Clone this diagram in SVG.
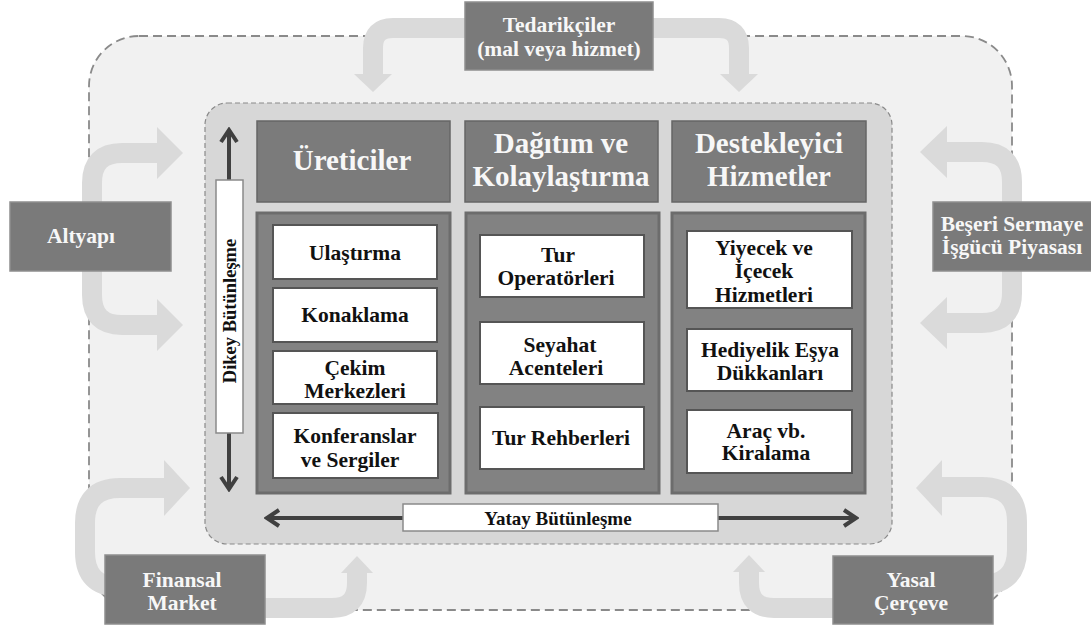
<svg xmlns="http://www.w3.org/2000/svg" width="1091" height="632" viewBox="0 0 1091 632">
<style>
.t{font-family:"Liberation Serif","DejaVu Serif",serif;font-weight:bold;text-anchor:middle}
.w{fill:#f7f7f7}
.k{fill:#111}
.band{fill:none;stroke:#dadada;stroke-width:20}
.head{fill:#dadada}
.dark{fill:#7a7a7a;stroke:#8e8e8e;stroke-width:1.5}
.hdr{fill:#7b7b7b;stroke:#666;stroke-width:1.5}
.col{fill:#828282;stroke:#6c6c6c;stroke-width:3}
.wb{fill:#fff;stroke:#555;stroke-width:2}
.bar{fill:#fff;stroke:#8a8a8a;stroke-width:1.5}
.dline{fill:none;stroke:#404040;stroke-width:4}
</style>
<defs>
<marker id="chev" viewBox="0 0 20 20" refX="16" refY="10" markerWidth="20" markerHeight="20" markerUnits="userSpaceOnUse" orient="auto">
<path d="M5,2 L17,10 L5,18" fill="none" stroke="#404040" stroke-width="4"/>
</marker>
</defs>
<rect width="1091" height="632" fill="#fff"/>
<rect id="outer" x="89" y="36" width="923" height="574" rx="50" fill="#f1f1f1" stroke="#8a8a8a" stroke-width="1.8" stroke-dasharray="9 5"/>
<g id="inner">
<rect x="205" y="103" width="687" height="441" rx="22" fill="#d7d7d7" stroke="#8a8a8a" stroke-width="1.2" stroke-dasharray="5 3"/>
</g>
<g id="connectors">
<path class="band" d="M480 28 H393 Q373 28 373 48 V75"/>
<polygon class="head" points="354,74 392,74 373,92"/>
<path class="band" d="M640 28 H719 Q739 28 739 48 V75"/>
<polygon class="head" points="720,74 758,74 739,92"/>
<path class="band" d="M92 210 V183 Q92 153 122 153 H158"/>
<polygon class="head" points="157,127 157,179 183,153"/>
<path class="band" d="M92 265 V295 Q92 325 122 325 H158"/>
<polygon class="head" points="157,299 157,351 183,325"/>
<path class="band" d="M1012 210 V182 Q1012 152 982 152 H946"/>
<polygon class="head" points="947,126 947,178 920,152"/>
<path class="band" d="M1012 265 V293 Q1012 323 982 323 H946"/>
<polygon class="head" points="947,297 947,349 920,323"/>
<path class="band" d="M120 587 Q85 587 85 552 V523 Q85 488 120 488 H165"/>
<polygon class="head" points="164,460 164,516 190,488"/>
<path class="band" d="M255 608 H332 Q357 608 357 583 V572"/>
<polygon class="head" points="341,573 373,573 357,556"/>
<path class="band" d="M845 608 H774 Q749 608 749 583 V571"/>
<polygon class="head" points="733,572 765,572 749,555"/>
<path class="band" d="M980 585 Q1017 585 1017 550 V522 Q1017 487 982 487 H941"/>
<polygon class="head" points="942,460 942,516 916,488"/>
<line class="dline" x1="229" y1="180" x2="229" y2="131" marker-end="url(#chev)"/>
<line class="dline" x1="229" y1="433" x2="229" y2="488" marker-end="url(#chev)"/>
<line class="dline" x1="403" y1="518" x2="268" y2="518" marker-end="url(#chev)"/>
<line class="dline" x1="718" y1="518" x2="855" y2="518" marker-end="url(#chev)"/>
</g>
<g id="tedarikciler">
<rect class="dark" x="465" y="2" width="188" height="68"/>
<text class="t w" font-size="21.5" x="559" y="32">Tedarikçiler</text>
<text class="t w" font-size="21.5" x="559" y="56">(mal veya hizmet)</text>
</g>
<g id="altyapi">
<rect class="dark" x="10" y="202" width="161" height="69"/>
<text class="t w" font-size="21.5" x="81" y="243">Altyapı</text>
</g>
<g id="beseri">
<rect class="dark" x="933" y="202" width="160" height="69"/>
<text class="t w" font-size="21.5" x="1012" y="231">Beşeri Sermaye</text>
<text class="t w" font-size="21.5" x="1012" y="254">İşgücü Piyasası</text>
</g>
<g id="finansal">
<rect class="dark" x="105" y="555" width="160" height="69"/>
<text class="t w" font-size="21.5" x="182" y="587">Finansal</text>
<text class="t w" font-size="21.5" x="182" y="610">Market</text>
</g>
<g id="yasal">
<rect class="dark" x="833" y="556" width="160" height="68"/>
<text class="t w" font-size="21.5" x="911" y="587">Yasal</text>
<text class="t w" font-size="21.5" x="911" y="610">Çerçeve</text>
</g>
<g id="ureticiler">
<rect class="hdr" x="257" y="121" width="193" height="81"/>
<text class="t w" font-size="29" x="352" y="170">Üreticiler</text>
</g>
<g id="dagitim">
<rect class="hdr" x="465" y="121" width="193" height="81"/>
<text class="t w" font-size="29" x="561" y="153">Dağıtım ve</text>
<text class="t w" font-size="29" x="561" y="186">Kolaylaştırma</text>
</g>
<g id="destekleyici">
<rect class="hdr" x="672" y="121" width="194" height="81"/>
<text class="t w" font-size="29" x="769" y="153">Destekleyici</text>
<text class="t w" font-size="29" x="769" y="186">Hizmetler</text>
</g>
<g id="col1">
<rect class="col" x="257" y="213" width="193" height="280"/>
</g>
<g id="col2">
<rect class="col" x="466" y="213" width="193" height="280"/>
</g>
<g id="col3">
<rect class="col" x="672" y="213" width="193" height="280"/>
</g>
<g id="ulastirma">
<rect class="wb" x="273" y="225" width="164" height="54"/>
<text class="t k" font-size="21.5" x="355" y="260">Ulaştırma</text>
</g>
<g id="konaklama">
<rect class="wb" x="273" y="288" width="164" height="54"/>
<text class="t k" font-size="21.5" x="355" y="322">Konaklama</text>
</g>
<g id="cekim">
<rect class="wb" x="273" y="351" width="164" height="53"/>
<text class="t k" font-size="21.5" x="355" y="375">Çekim</text>
<text class="t k" font-size="21.5" x="355" y="398">Merkezleri</text>
</g>
<g id="konferanslar">
<rect class="wb" x="273" y="413" width="165" height="65"/>
<text class="t k" font-size="21.5" x="355" y="443">Konferanslar</text>
<text class="t k" font-size="21.5" x="350" y="467">ve Sergiler</text>
</g>
<g id="turop">
<rect class="wb" x="480" y="235" width="164" height="62"/>
<text class="t k" font-size="21.5" x="558" y="262">Tur</text>
<text class="t k" font-size="21.5" x="556" y="285">Operatörleri</text>
</g>
<g id="seyahat">
<rect class="wb" x="480" y="322" width="164" height="62"/>
<text class="t k" font-size="21.5" x="560" y="352">Seyahat</text>
<text class="t k" font-size="21.5" x="556" y="375">Acenteleri</text>
</g>
<g id="rehber">
<rect class="wb" x="480" y="407" width="164" height="62"/>
<text class="t k" font-size="21.5" x="561" y="445">Tur Rehberleri</text>
</g>
<g id="yiyecek">
<rect class="wb" x="687" y="231" width="165" height="77"/>
<text class="t k" font-size="21.5" x="764" y="255">Yiyecek ve</text>
<text class="t k" font-size="21.5" x="764" y="278">İçecek</text>
<text class="t k" font-size="21.5" x="764" y="302">Hizmetleri</text>
</g>
<g id="hediyelik">
<rect class="wb" x="687" y="329" width="165" height="62"/>
<text class="t k" font-size="21.5" x="770" y="357">Hediyelik Eşya</text>
<text class="t k" font-size="21.5" x="770" y="380">Dükkanları</text>
</g>
<g id="arac">
<rect class="wb" x="687" y="410" width="165" height="63"/>
<text class="t k" font-size="21.5" x="766" y="438">Araç vb.</text>
<text class="t k" font-size="21.5" x="766" y="460">Kiralama</text>
</g>
<g id="dikey">
<rect class="bar" x="216" y="180" width="27" height="253"/>
<text class="t k" font-size="18.5" transform="translate(236,311) rotate(-90)">Dikey Bütünleşme</text>
</g>
<g id="yatay">
<rect class="bar" x="403" y="504" width="315" height="27"/>
<text class="t k" font-size="19" x="558" y="525">Yatay Bütünleşme</text>
</g>
</svg>
